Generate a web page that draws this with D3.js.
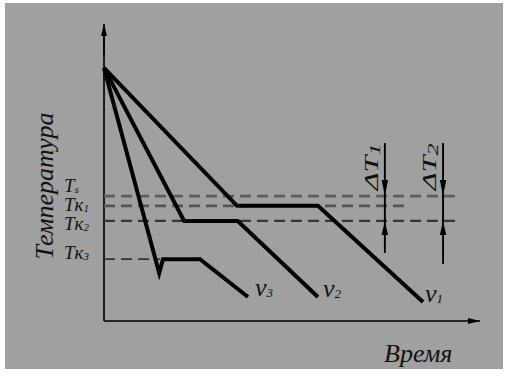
<!DOCTYPE html>
<html><head><meta charset="utf-8">
<script src="https://cdn.jsdelivr.net/npm/d3@7"></script>
<style>html,body{margin:0;padding:0;background:#fff;}svg{display:block;}</style>
</head><body>
<script>
// ---- data (time units 0..100, temperature units 0..100) ----
const seriesNames = ["v1", "v2", "v3"];
const v1Points = [[0, 85.5], [35.2, 38.9], [56.6, 38.9], [84.4, 6.4]];
const v2Points = [[0, 85.5], [21.2, 33.8], [35.4, 33.8], [56.6, 8.1]];
const v3Points = [[0, 85.5], [14.6, 16.2], [15.6, 20.9], [25.4, 20.9], [38.1, 8.1]];
const levelNames = ["Ts", "Tk1", "Tk2", "Tk3"];
const levelValues = [42.2, 38.9, 33.8, 20.9];
const levelEnds = [92.9, 79.6, 93.7, 14.8];
const deltaNames = ["ΔT1", "ΔT2"];
const deltaTimes = [74.3, 89.7];
const deltaBottoms = [23.0, 19.3];
const deltaTop = 60.1;

const W = 507, H = 379;
const svg = d3.select("body").append("svg").attr("width", W).attr("height", H);
svg.append("rect").attr("x", 5).attr("y", 3).attr("width", 498).attr("height", 366).attr("fill", "#a0a0a0");

const x = d3.scaleLinear().domain([0, 100]).range([104, 482]);
const y = d3.scaleLinear().domain([0, 100]).range([321, 25]);

const defs = svg.append("defs");
defs.append("marker").attr("id", "ah").attr("viewBox", "0 0 10 10").attr("refX", 10).attr("refY", 5)
  .attr("markerWidth", 12).attr("markerHeight", 12).attr("markerUnits", "userSpaceOnUse").attr("orient", "auto")
  .append("path").attr("d", "M0,2.5 L10,5 L0,7.5 Z").attr("fill", "#000");

// axes
const axX = d3.axisBottom(x).tickValues([]).tickSizeOuter(0);
const axY = d3.axisLeft(y).tickValues([]).tickSizeOuter(0);
const gx = svg.append("g").attr("transform", `translate(0,${y(0)})`).call(axX);
const gy = svg.append("g").attr("transform", `translate(${x(0)},0)`).call(axY);
gx.select(".domain").attr("stroke", "#000").attr("stroke-width", 1.7).attr("d", `M${x(0)},0H${x(100)-2}`).attr("marker-end", "url(#ah)");
gy.select(".domain").attr("stroke", "#000").attr("stroke-width", 1.7).attr("d", `M0,${y(0)}V${y(100)+2}`);
svg.append("line").attr("x1", x(0)).attr("x2", x(0)).attr("y1", y(90)).attr("y2", y(100.3))
  .attr("stroke", "#000").attr("stroke-width", 1.7).attr("marker-end", "url(#ah)");

// dashed levels
const dashColors = ["#5e5e5e", "#555555", "#363636", "#333333"];
const dashWidths = [2.8, 2.8, 2.3, 1.9];
levelValues.forEach((v, i) => {
  svg.append("line").attr("x1", x(0)).attr("x2", x(levelEnds[i]))
    .attr("y1", y(v)).attr("y2", y(v))
    .attr("stroke", dashColors[i]).attr("stroke-width", dashWidths[i])
    .attr("stroke-dasharray", "11,6");
});

// curves
const line = d3.line().x(d => x(d[0])).y(d => y(d[1]));
[v1Points, v2Points, v3Points].forEach(p => {
  svg.append("path").attr("d", line(p)).attr("fill", "none")
    .attr("stroke", "#000").attr("stroke-width", 4).attr("stroke-linejoin", "miter");
});

const font = "Liberation Serif";

// delta arrows
deltaTimes.forEach((t, i) => {
  const gx0 = x(t);
  svg.append("line").attr("x1", gx0).attr("x2", gx0).attr("y1", y(deltaTop)).attr("y2", y(deltaBottoms[i]))
    .attr("stroke", "#000").attr("stroke-width", 1.9);
  const tip1 = y(levelValues[0]);
  svg.append("path").attr("d", `M${gx0-3.2},${tip1-16} L${gx0+3.2},${tip1-16} L${gx0},${tip1} Z`).attr("fill", "#000");
  const tip2 = y(levelValues[2]);
  svg.append("path").attr("d", `M${gx0-3.2},${tip2+14} L${gx0+3.2},${tip2+14} L${gx0},${tip2} Z`).attr("fill", "#000");
  const tx = svg.append("text").attr("transform", `translate(${gx0-7},167) rotate(-90)`)
    .attr("text-anchor", "middle").attr("font-family", font).attr("font-style", "italic")
    .attr("font-size", 19).attr("fill", "#111")
    .attr("textLength", 47).attr("lengthAdjust", "spacingAndGlyphs");
  tx.append("tspan").text(deltaNames[i].slice(0, 2));
  tx.append("tspan").attr("font-size", 15).attr("dy", 2).text(deltaNames[i].slice(2));
});

// level labels
const lblY = [192, 211, 230, 259];
levelNames.forEach((n, i) => {
  const tx = svg.append("text").attr("x", 64).attr("y", lblY[i]).attr("font-family", font)
    .attr("font-style", "italic").attr("font-size", 19).attr("fill", "#111");
  tx.append("tspan").text("T");
  if (n === "Ts") {
    tx.append("tspan").attr("font-size", 11).attr("dy", 1).text("s");
  } else {
    tx.append("tspan").text("к");
    tx.append("tspan").attr("font-size", 11).attr("dy", 1).text(n.slice(2));
  }
});

// series labels
const seriesLabelPos = [[425, 302], [323, 297], [255, 296]];
seriesNames.forEach((n, i) => {
  const tx = svg.append("text").attr("x", seriesLabelPos[i][0]).attr("y", seriesLabelPos[i][1])
    .attr("font-family", font).attr("font-style", "italic").attr("font-size", 26).attr("fill", "#111");
  tx.append("tspan").text("v");
  tx.append("tspan").attr("font-size", 13).attr("dy", 1).text(n.slice(1));
});

// axis titles
svg.append("text").attr("x", 384).attr("y", 362).attr("font-family", font).attr("font-style", "italic")
  .attr("font-size", 26).attr("fill", "#111").text("Время");
svg.append("text").attr("transform", "translate(53,186) rotate(-90)").attr("text-anchor", "middle")
  .attr("font-family", font).attr("font-style", "italic").attr("font-size", 26).attr("fill", "#111")
  .text("Температура");
</script>
</body></html>
